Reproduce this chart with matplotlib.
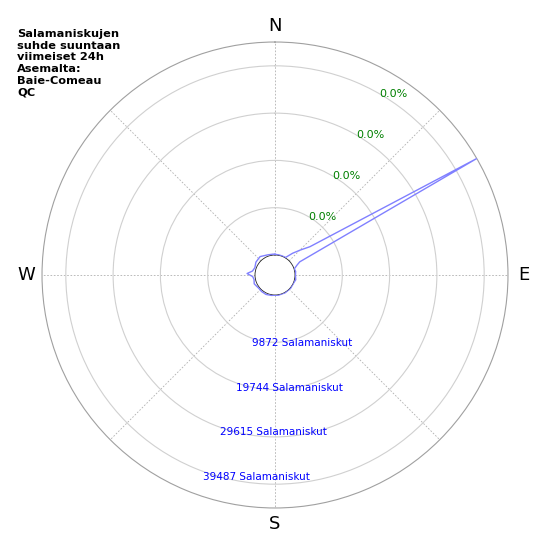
import numpy as np
import matplotlib.pyplot as plt

# Salamaniskujen määrä suunnan mukaan (suuntakulma asteina, määrä)
bearings = [0, 10, 20, 31, 39, 45, 51, 60, 62, 66, 70, 72, 80, 90, 103, 110,
            130, 150, 170, 190, 205, 219, 230, 247, 258, 266, 273, 280, 290,
            304, 321, 340, 355, 360]
counts = [150, 100, 80, 100, 1670, 3130, 5220, 44455, 1670, 830, 310, 60,
          200, 100, 270, 100, 100, 100, 100, 150, 300, 270, 200, 540, 300,
          500, 1670, 600, 300, 630, 770, 300, 200, 150]

ring_values = [9872, 19744, 29615, 39487]
ring_labels = ["0.0%", "0.0%", "0.0%", "0.0%"]
r_max = 44455
r_origin = -4174

title = "Salamaniskujen\nsuhde suuntaan\nviimeiset 24h\nAsemalta:\nBaie-Comeau\nQC"

fig = plt.figure(figsize=(5.5, 5.5), dpi=100)
ax = fig.add_axes([0.0764, 0.0764, 0.8472, 0.8472], polar=True)
ax.set_theta_zero_location("N")
ax.set_theta_direction(-1)

theta = np.deg2rad(bearings)
ax.plot(theta, counts, color="#8080ff", linewidth=1.0, zorder=3)

ax.set_rlim(0, r_max)
ax.set_rorigin(r_origin)

ax.set_thetagrids([0, 45, 90, 135, 180, 225, 270, 315],
                  ["N", "", "E", "", "S", "", "W", ""], fontsize=13)
ax.tick_params(axis="x", pad=1)
ax.xaxis.grid(True, color="#b0b0b0", linestyle=(0, (2, 2)), linewidth=0.6)

ax.set_rgrids(ring_values, [""] * len(ring_values))
ax.yaxis.grid(True, color="#d0d0d0", linestyle="-", linewidth=0.8)

ax.spines["polar"].set_color("#a0a0a0")
ax.spines["polar"].set_linewidth(0.8)
ax.spines["inner"].set_color("#222222")
ax.spines["inner"].set_linewidth(0.6)

# prosenttiosuudet renkaille
for val, lab in zip(ring_values, ring_labels):
    ax.text(np.deg2rad(30), val, lab, color="green", fontsize=8,
            ha="left", va="center")

for val in ring_values:
    ax.text(np.deg2rad(200), val, f"{val} Salamaniskut", color="blue",
            fontsize=7.5, ha="left", va="top")

fig.text(0.031, 0.947, title, ha="left", va="top", fontsize=8.2,
         fontweight="bold")

fig.savefig("out.png", dpi=100)
